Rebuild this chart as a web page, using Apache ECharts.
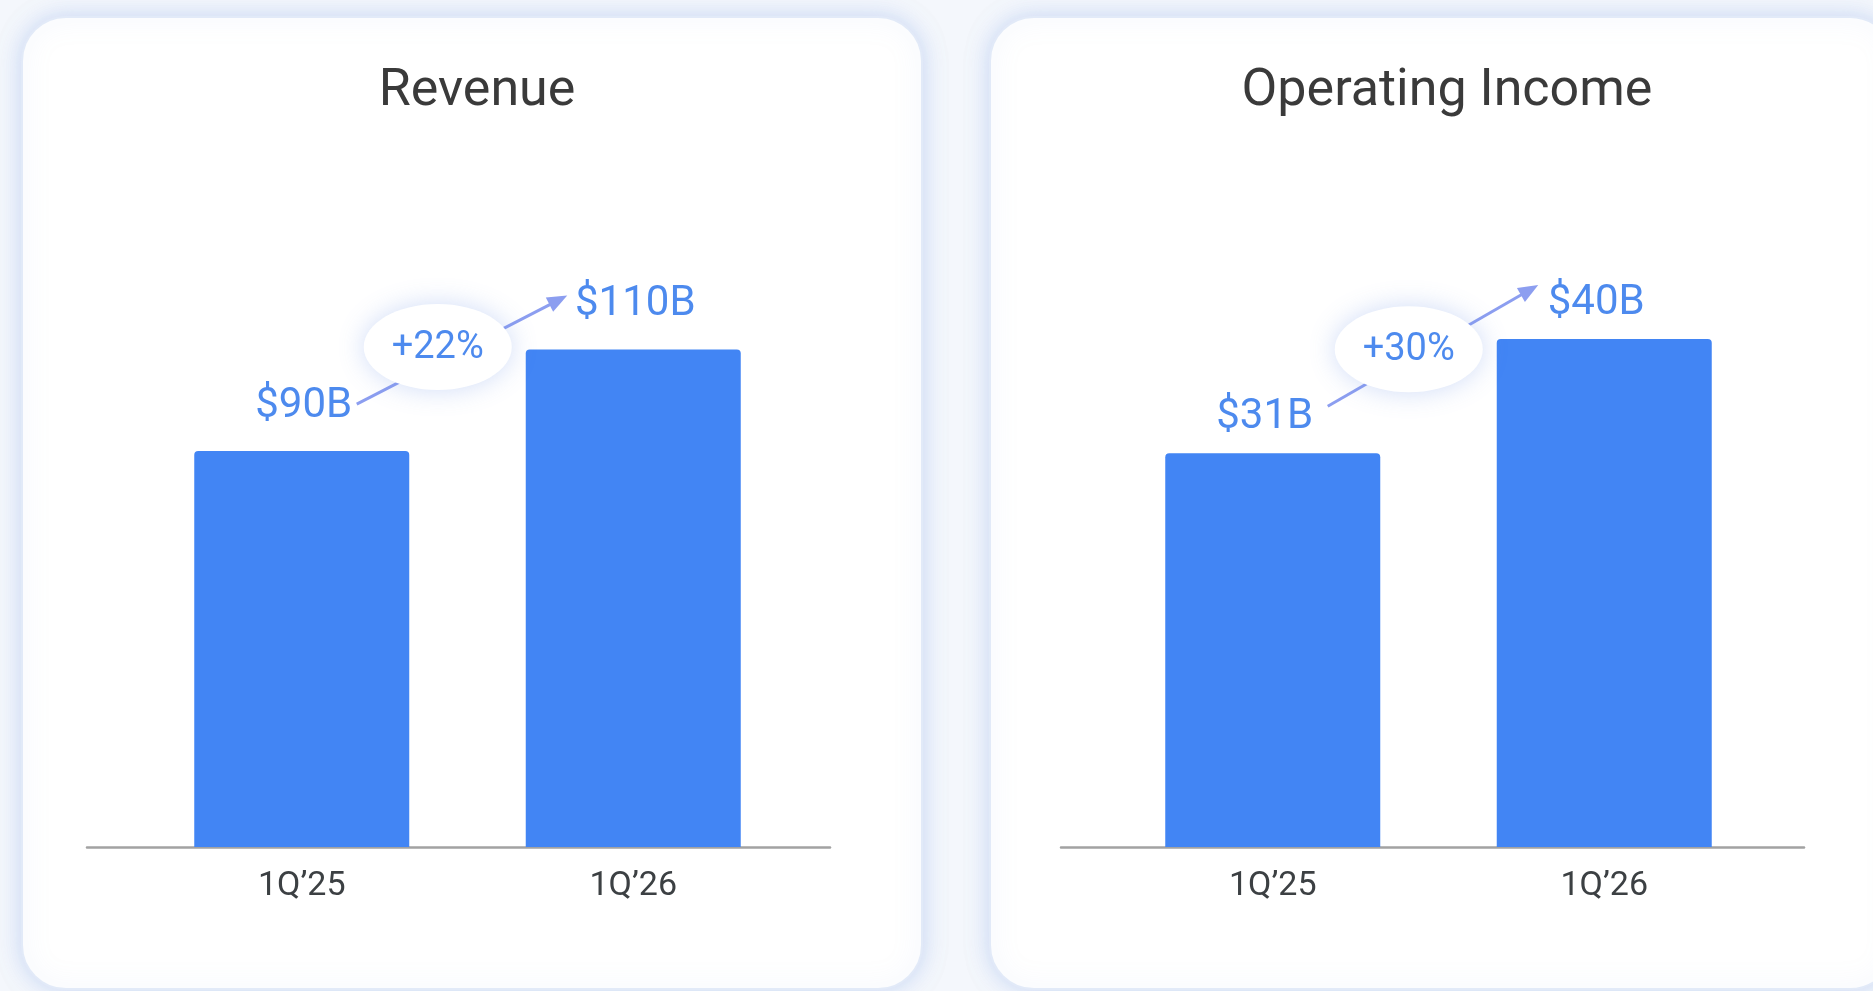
<!DOCTYPE html>
<html>
<head>
<meta charset="utf-8">
<title>Revenue / Operating Income</title>
<script src="https://cdn.jsdelivr.net/npm/echarts@6/dist/echarts.min.js"></script>
<style>
  html, body { margin: 0; padding: 0; background: #f4f7fc; }
  #main { width: 1873px; height: 991px; }
</style>
</head>
<body>
<div id="main"></div>
<script>
// chart data
const titles = ['Revenue', 'Operating Income'];
const categories = ['1Q\u201925', '1Q\u201926'];
const revenue = [90, 110];
const operatingIncome = [31, 40];
const growthLabels = ['+22%', '+30%'];

const FONT = 'Roboto, "Open Sans", sans-serif';
const BLUE = '#4285f4';
const LABEL_BLUE = '#4d8aee';
const ARROW = '#8c9ef0';

var myChart = echarts.init(document.getElementById('main'));

function valueLabel(v) {
  return '$' + v + 'B';
}

// white cards behind the two charts
function card(id, x, w) {
  return {
    id: id,
    type: 'rect',
    z: -10,
    shape: { x: x, y: 17, width: w, height: 972, r: 44 },
    style: {
      fill: '#ffffff',
      stroke: '#e2eaf8',
      lineWidth: 2,
      shadowBlur: 22,
      shadowColor: 'rgba(160,188,240,0.5)'
    }
  };
}

function barSeries(idx, values, dist, offset) {
  return {
    type: 'bar',
    xAxisIndex: idx,
    yAxisIndex: idx,
    data: values,
    barWidth: 215,
    clip: true,
    itemStyle: { color: BLUE, borderRadius: [4, 4, 0, 0] },
    label: {
      show: true,
      position: 'top',
      distance: dist,
      offset: offset,
      fontFamily: FONT,
      fontSize: 42,
      color: LABEL_BLUE,
      formatter: function (p) { return valueLabel(p.value); }
    }
  };
}

function catAxis(grid) {
  return {
    gridIndex: grid,
    type: 'category',
    data: categories,
    axisLine: { show: false },
    axisTick: { show: false },
    axisLabel: { fontFamily: FONT, fontSize: 34, color: '#3c4043', margin: 22 }
  };
}

function baseAxis(grid) {
  return {
    gridIndex: grid,
    type: 'category',
    data: categories,
    axisLine: { show: true, onZero: false, lineStyle: { color: '#a2a2a2', width: 2.5 } },
    axisTick: { show: false },
    axisLabel: { show: false }
  };
}

const titleStyle = { fontFamily: FONT, fontSize: 52, fontWeight: 'normal', color: '#3a3a3a' };

const option = {
  backgroundColor: '#f4f7fc',
  animation: false,
  title: [
    { text: titles[0], left: 472, top: 61, textAlign: 'center', textStyle: titleStyle },
    { text: titles[1], left: 1442, top: 61, textAlign: 'center', textStyle: titleStyle }
  ],
  grid: [
    { left: 136, right: 1074, top: 45, bottom: 144 },   // revenue bars
    { left: 1107, right: 103, top: 85, bottom: 144 },   // operating income bars
    { left: 87, right: 1043, top: 400, bottom: 144 },   // revenue baseline
    { left: 1061, right: 69, top: 400, bottom: 144 }    // operating income baseline
  ],
  xAxis: [catAxis(0), catAxis(1), baseAxis(2), baseAxis(3)],
  yAxis: [
    // the reference revenue bars are not drawn from zero
    { gridIndex: 0, type: 'value', min: 12, max: 170, show: false },
    { gridIndex: 1, type: 'value', min: 0, max: 60, show: false },
    { gridIndex: 2, type: 'value', min: 0, max: 1, show: false },
    { gridIndex: 3, type: 'value', min: 0, max: 1, show: false }
  ],
  graphic: [card('card0', 22, 900), card('card1', 990, 904)],
  series: [
    barSeries(0, revenue, 24, [2, 0]),
    barSeries(1, operatingIncome, 15, [-8, 0])
  ]
};

myChart.setOption(option);

// growth bubble + arrow, placed from the bar tops
function growthGraphic(i, values) {
  var p1 = myChart.convertToPixel({ seriesIndex: i }, [0, values[0]]);
  var p2 = myChart.convertToPixel({ seriesIndex: i }, [1, values[1]]);
  var start = [p1[0] + 55, p1[1] - 47];
  var tip = [p2[0] - 66, p2[1] - 54];
  var dx = tip[0] - start[0], dy = tip[1] - start[1];
  var len = Math.sqrt(dx * dx + dy * dy);
  var ux = dx / len, uy = dy / len;
  var nx = -uy, ny = ux;
  var head = 20, half = 8;
  var base = [tip[0] - ux * head, tip[1] - uy * head];
  var cx = p1[0] + 136, cy = p1[1] - 104;
  return [
    {
      id: 'arrow' + i, type: 'line', z: 50,
      shape: { x1: start[0], y1: start[1], x2: base[0] + ux * 2, y2: base[1] + uy * 2 },
      style: { stroke: ARROW, lineWidth: 3 }
    },
    {
      id: 'head' + i, type: 'polygon', z: 50,
      shape: { points: [tip, [base[0] + nx * half, base[1] + ny * half], [base[0] - nx * half, base[1] - ny * half]] },
      style: { fill: ARROW }
    },
    {
      id: 'bubble' + i, type: 'ellipse', z: 60,
      shape: { cx: cx, cy: cy, rx: 74, ry: 43 },
      style: { fill: '#ffffff', shadowBlur: 26, shadowColor: 'rgba(100,140,230,0.3)' }
    },
    {
      id: 'growth' + i, type: 'text', z: 70,
      style: {
        text: growthLabels[i], x: cx, y: cy + 1,
        align: 'center', verticalAlign: 'middle',
        font: '38px ' + FONT, fill: LABEL_BLUE
      }
    }
  ];
}

myChart.setOption({
  graphic: growthGraphic(0, revenue).concat(growthGraphic(1, operatingIncome))
});

window.addEventListener('resize', function () {
  myChart.resize();
});
</script>
</body>
</html>
